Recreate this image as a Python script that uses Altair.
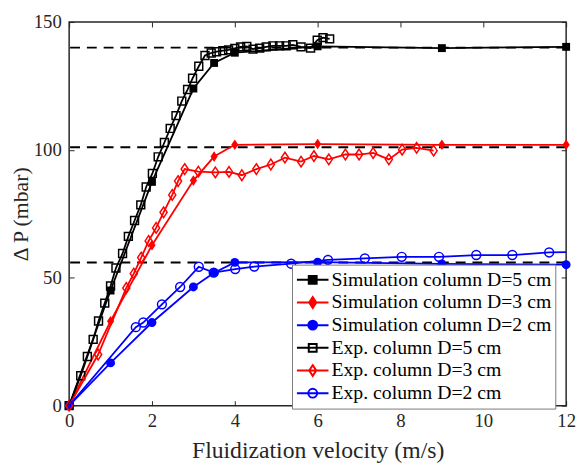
import altair as alt
import pandas as pd

names = [
    "Simulation column D=5 cm",
    "Simulation column D=3 cm",
    "Simulation column D=2 cm",
    "Exp. column D=5 cm",
    "Exp. column D=3 cm",
    "Exp. column D=2 cm",
]
colors = ["#000000", "#ff0000", "#0000ff", "#000000", "#ff0000", "#0000ff"]

sim_v = [0, 1, 2, 3, 3.5, 4, 6, 9, 12]
sim5_dp = [0, 45, 87.5, 124, 134, 138, 140.5, 139.8, 140.3]
sim3_dp = [0, 33, 62.7, 88, 97.4, 102, 102.3, 102, 102]
sim2_dp = [0, 16.7, 32.5, 46.4, 52, 56, 56.1, 55.4, 55.1]

exp5_v = [0, 0.28, 0.44, 0.58, 0.71, 0.86, 1.0, 1.13, 1.29, 1.43, 1.58, 1.73, 1.86,
          2.01, 2.15, 2.30, 2.44, 2.58, 2.72, 2.86, 2.98, 3.13, 3.28, 3.43, 3.56,
          3.71, 3.85, 4.0, 4.14, 4.29, 4.44, 4.6, 4.76, 4.92, 5.08, 5.24, 5.40,
          5.6, 5.83, 5.99, 6.13, 6.29]
exp5_dp = [0, 11.7, 19.2, 25.9, 33.1, 40.1, 46.8, 53.8, 59.5, 66.2, 72.4, 78.5, 85.5,
           90.8, 97.3, 102.9, 108.4, 113.4, 119.1, 123.6, 128, 132.7, 136.9, 137.9,
           138.4, 138.8, 139.1, 139.7, 140.3, 140.5, 139.4, 139.8, 140.3, 140.7,
           140.7, 140.7, 141.1, 140.3, 139.8, 142.9, 143.9, 143.4]

exp3_v = [0, 0.7, 1.38, 1.56, 1.74, 1.92, 2.1, 2.28, 2.49, 2.63, 2.79, 3.12, 3.53,
          3.86, 4.17, 4.52, 4.87, 5.21, 5.6, 5.91, 6.27, 6.67, 7.0, 7.34, 7.72,
          8.04, 8.39, 8.8]
exp3_dp = [0, 20, 46, 51.6, 57.9, 64.4, 69.5, 75.6, 82.4, 87.8, 92.5, 91.5, 91.2,
           91.4, 90.1, 92.5, 94.3, 97, 95.4, 97.6, 96.3, 98.2, 98.2, 98.8, 96.3,
           100.1, 100.8, 99.7]

exp2_v = [0, 1.61, 1.79, 2.24, 2.68, 3.13, 3.49, 4.01, 4.47, 5.36, 6.25, 7.14, 8.03,
          8.93, 9.83, 10.7, 11.59, 12.5]
exp2_dp = [0, 30.7, 32.5, 39.6, 46.4, 54.3, 52, 53.4, 54.4, 55.5, 57, 57.6, 58.2,
           58.2, 58.9, 58.9, 59.9, 60.1]

levels = [140, 101, 56]
x_ticks = [0, 2, 4, 6, 8, 10, 12]
y_ticks = [0, 50, 100, 150]

series = [
    (names[0], sim_v, sim5_dp),
    (names[1], sim_v, sim3_dp),
    (names[2], sim_v, sim2_dp),
    (names[3], exp5_v, exp5_dp),
    (names[4], exp3_v, exp3_dp),
    (names[5], exp2_v, exp2_dp),
]
rows = []
for name, vs, ps in series:
    for v, p in zip(vs, ps):
        rows.append({"series": name, "v": v, "dp": p})
df = pd.DataFrame(rows)
df_levels = pd.DataFrame({"level": levels})

FONT = "Liberation Serif"
FRAME = "#262626"

xs = alt.Scale(domain=[0, 12], nice=False, zero=False)
ys = alt.Scale(domain=[0, 150], nice=False, zero=False)

ax_bottom = alt.Axis(orient="bottom", values=x_ticks, offset=-5, tickSize=5, tickColor=FRAME,
                     tickWidth=1, domain=False, grid=False, labelFont=FONT, labelFontSize=19,
                     labelColor=FRAME, labelPadding=6, labelFlush=False,
                     title="Fluidization velocity (m/s)", titleFont=FONT, titleFontSize=24,
                     titleFontWeight="normal", titleColor=FRAME, titlePadding=9)
ax_left = alt.Axis(orient="left", values=y_ticks, offset=-5, tickSize=5, tickColor=FRAME,
                   tickWidth=1, domain=False, grid=False, labelFont=FONT, labelFontSize=19,
                   labelColor=FRAME, labelPadding=8, labelFlush=False,
                   title="Δ P (mbar)", titleFont=FONT, titleFontSize=22,
                   titleFontWeight="normal", titleColor=FRAME, titlePadding=1)
ax_top = alt.Axis(orient="top", values=x_ticks, offset=-5, tickSize=5, tickColor=FRAME,
                  tickWidth=1, domain=False, grid=False, labels=False, title=None)
ax_right = alt.Axis(orient="right", values=y_ticks, offset=-5, tickSize=5, tickColor=FRAME,
                    tickWidth=1, domain=False, grid=False, labels=False, title=None)

layers = []

dash = alt.Chart(df_levels).mark_rule(color="#000000", strokeWidth=2, strokeDash=[10, 7]).encode(
    y=alt.Y("level:Q", scale=ys, axis=None)
)
layers.append(dash)

shape_marks = ["square", "M0,-1.2L0.8,0L0,1.2L-0.8,0Z", "circle",
               "square", "M0,-1.2L0.8,0L0,1.2L-0.8,0Z", "circle"]
sizes = [64, 81, 81, 64, 81, 81]
filled = [True, True, True, False, False, False]

for i, name in enumerate(names):
    clip = (i == 5)
    xa = ax_bottom if i == 0 else None
    ya = ax_left if i == 0 else None
    sub = alt.Chart(df).transform_filter(alt.datum.series == name)
    line = sub.mark_line(color=colors[i], strokeWidth=1.8, clip=clip).encode(
        x=alt.X("v:Q", scale=xs, axis=xa),
        y=alt.Y("dp:Q", scale=ys, axis=ya),
        order="v:Q",
    )
    pts = sub.mark_point(shape=shape_marks[i], filled=filled[i], size=sizes[i],
                         color=colors[i], strokeWidth=1.5, opacity=1, clip=clip).encode(
        x=alt.X("v:Q", scale=xs, axis=None),
        y=alt.Y("dp:Q", scale=ys, axis=None),
    )
    layers.append(line)
    layers.append(pts)

leg_shapes = [
    "M-1,0L1,0M-0.25,-0.25L0.25,-0.25L0.25,0.25L-0.25,0.25Z",
    "M-1,0L1,0M0,-0.34L0.225,0L0,0.34L-0.225,0Z",
    "M-1,0L1,0M0.28,0A0.28,0.28,0,1,1,-0.28,0A0.28,0.28,0,1,1,0.28,0Z",
    "M-1,0L1,0M-0.25,-0.25L0.25,-0.25L0.25,0.25L-0.25,0.25Z",
    "M-1,0L1,0M0,-0.34L0.225,0L0,0.34L-0.225,0Z",
    "M-1,0L1,0M0.28,0A0.28,0.28,0,1,1,-0.28,0A0.28,0.28,0,1,1,0.28,0Z",
]
leg_fills = ["#000000", "#ff0000", "#0000ff", "transparent", "transparent", "transparent"]

legend = alt.Legend(title=None, orient="none", legendX=226, legendY=246,
                    symbolSize=1024, symbolStrokeWidth=2, symbolOpacity=1,
                    labelFont=FONT, labelFontSize=20, labelColor="#000000",
                    labelLimit=400, labelOffset=2, clipHeight=22.8, rowPadding=0,
                    padding=4, strokeColor="#7a7a7a", fillColor="#ffffff")

leg_layer = alt.Chart(df).transform_filter("false").mark_point(filled=False).encode(
    x=alt.X("v:Q", scale=xs, axis=ax_top),
    y=alt.Y("dp:Q", scale=ys, axis=ax_right),
    color=alt.Color("series:N", scale=alt.Scale(domain=names, range=colors), legend=legend),
    shape=alt.Shape("series:N", scale=alt.Scale(domain=names, range=leg_shapes), legend=legend),
    fill=alt.Fill("series:N", scale=alt.Scale(domain=names, range=leg_fills), legend=legend),
)
layers.append(leg_layer)

chart = alt.layer(*layers).resolve_axis(x="independent", y="independent").properties(
    width=504, height=389,
    autosize=alt.AutoSizeParams(type="none"),
    padding={"left": 62, "top": 11, "right": 10, "bottom": 60},
).configure_view(stroke=FRAME, strokeWidth=1.5)

chart.save("out.html", embed_options={"renderer": "svg", "actions": False})
